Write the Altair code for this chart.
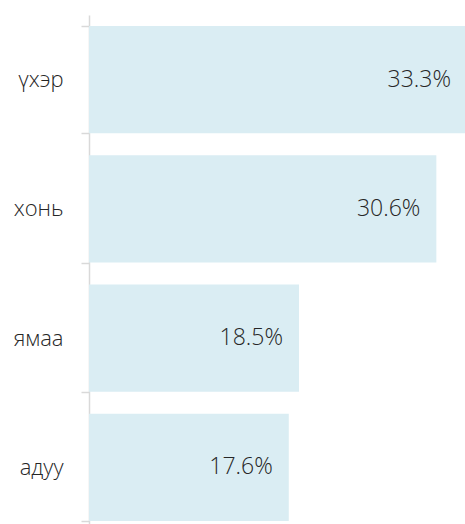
import altair as alt
import pandas as pd

categories = ["үхэр", "хонь", "ямаа", "адуу"]
values = [33.3, 30.6, 18.5, 17.6]
labels = ["33.3%", "30.6%", "18.5%", "17.6%"]

df = pd.DataFrame({"cat": categories, "val": values, "lab": labels})

FONT = "Open Sans"

y_enc = alt.Y(
    "cat:N",
    sort=categories,
    title=None,
    scale=alt.Scale(paddingInner=0.17, paddingOuter=0.085, range=[0, 517]),
    axis=alt.Axis(
        tickBand="extent",
        domainColor="#d9d9d9",
        domainWidth=1.5,
        tickColor="#d9d9d9",
        tickWidth=1.5,
        tickSize=8,
        labelPadding=18,
        labelFont=FONT,
        labelFontSize=22,
        labelFontWeight=300,
        labelColor="#262626",
        grid=False,
    ),
)
x_enc = alt.X("val:Q", title=None, axis=None,
              scale=alt.Scale(domain=[0, 33.3], nice=False, range=[0, 378]))

bars = alt.Chart(df).mark_bar(color="#DAEDF3", cornerRadius=0).encode(y=y_enc, x=x_enc)
text = alt.Chart(df).mark_text(
    align="right", baseline="middle", dx=-16, font=FONT, fontSize=23, fontWeight=300, color="#262626"
).encode(y=alt.Y("cat:N", sort=categories), x=alt.X("val:Q"), text="lab:N")

chart = (
    alt.layer(bars, text)
    .properties(
        width=376,
        height=509,
        autosize=alt.AutoSizeParams(type="none"),
        padding={"left": 89, "top": 15, "right": 0, "bottom": 0},
    )
    .configure_view(stroke=None)
)

chart.save("out.html", embed_options={"renderer": "svg", "actions": False})
